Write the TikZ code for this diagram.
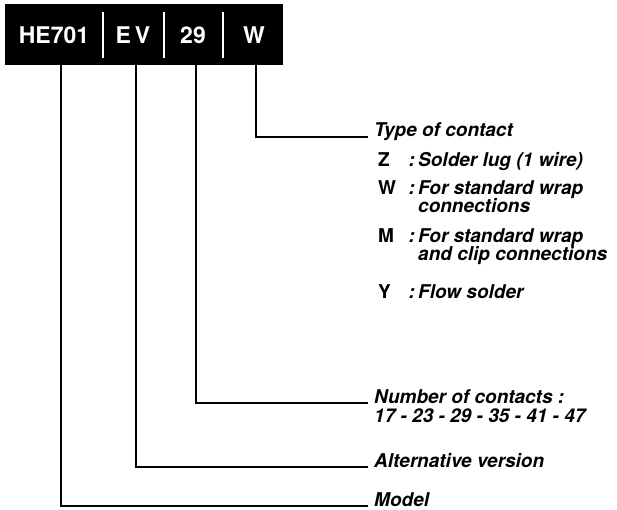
\documentclass[tikz,border=0pt]{standalone}
\usepackage{fontspec}
\setmainfont{TeX Gyre Heros}
\usetikzlibrary{calc}

\begin{document}
\begin{tikzpicture}[x=1pt,y=-1pt]

  \tikzstyle{codetext}=[text=white,inner sep=0pt,font=\fontsize{23}{25}\selectfont\bfseries]
  \tikzstyle{sep}=[white,line width=2pt]
  \tikzstyle{lead}=[line width=2.6pt,line join=miter]
  \tikzstyle{lbltext}=[anchor=base west,inner xsep=6pt,inner ysep=0pt,font=\fontsize{19}{21}\selectfont\bfseries\itshape]
  \tikzstyle{letter}=[anchor=base west,inner sep=0pt,font=\fontsize{19}{21}\selectfont\bfseries]
  \tikzstyle{desc}=[anchor=base west,inner sep=0pt,font=\fontsize{19}{21}\selectfont\bfseries\itshape]

  % ====================
  % Parameters
  % ====================
  \def\barl{5}     % Left edge of the code bar
  \def\barr{283}   % Right edge of the code bar
  \def\bart{4}     % Top of the code bar
  \def\barb{65}    % Bottom of the code bar
  \def\linex{368}  % Where the leads end
  \def\letx{378}   % Column of the letters
  \def\descx{418}  % Column of the descriptions
  \def\rowh{18}    % Line spacing of the descriptions
  % ====================

  \useasboundingbox (0,0) rectangle (617,510);

  % ====================
  % Code bar
  % ====================
  \fill (\barl,\bart) rectangle (\barr,\barb);
  \node (he) [codetext] at (54,35) {HE701};
  \node (ev) [codetext] at (133,35) {E\,V};
  \node (nr) [codetext] at (193,35) {29};
  \node (wt) [codetext] at (254,35) {W};
  \foreach \x in {103,164,223}
    \draw[sep] (\x,12) -- (\x,58);

  \coordinate (heleg) at (61,\barb);
  \coordinate (evleg) at (136,\barb);
  \coordinate (nrleg) at (196,\barb);
  \coordinate (wleg) at (256,\barb);

  % ====================
  % Type of contact
  % ====================
  \node (type) [lbltext] at (\linex,137) {Type of contact};
  \draw[lead] (wleg) |- (type.base west);

  \node (zkey) [letter] at (\letx,167) {Z};
  \node (zdesc) [desc] at (\descx,167) {\llap{:\,}Solder lug (1 wire)};

  \node (wkey) [letter] at (\letx,195) {W};
  \node (wdesc) [desc] at (\descx,195) {\llap{:\,}For standard wrap};
  \node (wdesc2) [desc] at (\descx,195+\rowh) {connections};

  \node (mkey) [letter] at (\letx,242) {M};
  \node (mdesc) [desc] at (\descx,242) {\llap{:\,}For standard wrap};
  \node (mdesc2) [desc] at (\descx,242+\rowh) {and clip connections};

  \node (ykey) [letter] at (\letx,298) {Y};
  \node (ydesc) [desc] at (\descx,298) {\llap{:\,}Flow solder};

  % ====================
  % Number of contacts
  % ====================
  \node (count) [lbltext] at (\linex,403) {Number of contacts :};
  \node (count2) [desc] at ($(count.base west)+(6,\rowh+1)$) {17 - 23 - 29 - 35 - 41 - 47};
  \draw[lead] (nrleg) |- (count.base west);

  % ====================
  % Version and model
  % ====================
  \node (alt) [lbltext] at (\linex,467) {Alternative version};
  \draw[lead] (evleg) |- (alt.base west);

  \node (model) [lbltext] at (\linex,506) {Model};
  \draw[lead] (heleg) |- (model.base west);
\end{tikzpicture}
\end{document}
